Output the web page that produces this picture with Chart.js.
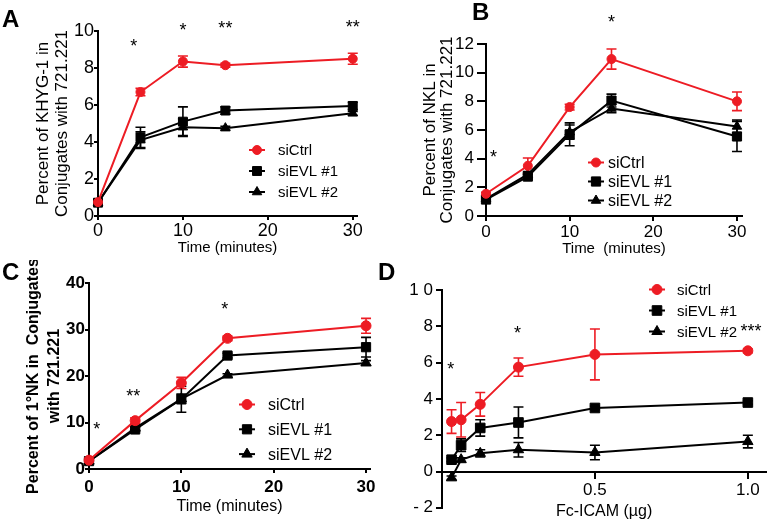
<!DOCTYPE html>
<html lang="en">
<head>
  <meta charset="UTF-8">
  <title>EVL knockdown and NK conjugate formation</title>
  <script src="https://cdn.jsdelivr.net/npm/chart.js"></script>
  <style>
    body {
      margin: 0;
      background: #fff;
    }

    #figure {
      position: relative;
      width: 774px;
      height: 521px;
    }

    #figure canvas {
      position: absolute;
    }
  </style>
</head>
<body>
  <div id="figure">
    <canvas id="chartA" width="380" height="260" style="left:0;top:0"></canvas>
    <canvas id="chartB" width="394" height="260" style="left:380px;top:0"></canvas>
    <canvas id="chartC" width="380" height="261" style="left:0;top:260px"></canvas>
    <canvas id="chartD" width="402" height="261" style="left:372px;top:260px"></canvas>
  </div>

<script>
    const seriesNames = ['siCtrl', 'siEVL #1', 'siEVL #2'];

    // A: KHYG-1 conjugates over time
    const minutes = [0, 5, 10, 15, 30];
    const minuteTicks = [0, 10, 20, 30];
    const khygTicks = [0, 2, 4, 6, 8, 10];
    const khygCtrl = [0.75, 6.7, 8.35, 8.15, 8.5];
    const khygEvl1 = [0.72, 4.25, 5.1, 5.7, 5.95];
    const khygEvl2 = [0.72, 4.1, 4.8, 4.75, 5.55];
    const khygCtrlErr = [0.15, 0.2, 0.3, 0.1, 0.3];
    const khygEvl1Err = [0.1, 0.55, 0.8, 0.2, 0.2];
    const khygEvl2Err = [0.1, 0.45, 0.45, 0.1, 0.1];

    // B: NKL conjugates over time
    const nklTicks = [0, 2, 4, 6, 8, 10, 12];
    const nklCtrl = [1.55, 3.5, 7.6, 10.95, 8.0];
    const nklEvl1 = [1.15, 2.75, 5.7, 8.05, 5.55];
    const nklEvl2 = [1.2, 2.9, 5.85, 7.5, 6.25];
    const nklCtrlErr = [0.1, 0.55, 0.2, 0.7, 0.65];
    const nklEvl1Err = [0.1, 0.15, 0.8, 0.45, 1.05];
    const nklEvl2Err = [0.1, 0.2, 0.5, 0.3, 0.45];

    // C: primary NK conjugates over time
    const primaryTicks = [0, 10, 20, 30, 40];
    const primaryCtrl = [1.9, 10.4, 18.5, 28.1, 30.8];
    const primaryEvl1 = [1.7, 8.5, 15.0, 24.4, 26.2];
    const primaryEvl2 = [1.7, 8.8, 15.1, 20.2, 22.8];
    const primaryCtrlErr = [0.3, 0.6, 1.2, 0.5, 1.6];
    const primaryEvl1Err = [0.3, 0.5, 2.8, 0.5, 2.1];
    const primaryEvl2Err = [0.2, 0.3, 1.0, 0.3, 0.5];

    // D: conjugates vs Fc-ICAM dose
    const icamDose = [0.03125, 0.0625, 0.125, 0.25, 0.5, 1.0];
    const icamTicks = [0.5, 1.0];
    const icamTickLabels = ['0.5', '1.0'];
    const icamYTicks = [-2, 0, 2, 4, 6, 8, 10];
    const icamYTickLabels = ['- 2', '0', '2', '4', '6', '8', '1 0'];
    const icamCtrl = [2.75, 2.85, 3.7, 5.75, 6.45, 6.65];
    const icamEvl1 = [0.65, 1.45, 2.4, 2.7, 3.5, 3.8];
    const icamEvl2 = [-0.35, 0.65, 1.0, 1.2, 1.05, 1.65];
    const icamCtrlErr = [0.65, 0.95, 0.65, 0.5, 1.4, 0.1];
    const icamEvl1Err = [0.1, 0.35, 0.45, 0.85, 0.1, 0.1];
    const icamEvl2Err = [0.1, 0.1, 0.2, 0.4, 0.4, 0.35];

    const FONT = '"Liberation Sans", Arial, sans-serif';
    const RED = '#ed1c24';
    const colors = [RED, '#000', '#000'];
    const shapes = ['circle', 'rect', 'triangle'];

    function buildDatasets(xs, values, errors, radii) {
      return values.map((ys, k) => ({
        label: seriesNames[k],
        data: xs.map((x, i) => ({ x: x, y: ys[i] })),
        errors: errors[k],
        borderColor: colors[k],
        backgroundColor: colors[k],
        pointBackgroundColor: colors[k],
        pointBorderColor: colors[k],
        pointStyle: shapes[k],
        pointRadius: radii[k],
        pointHoverRadius: radii[k],
        pointBorderWidth: 1,
        borderWidth: 2,
        tension: 0,
        clip: false
      }));
    }

    function axis(o) {
      return {
        type: 'linear',
        position: o.position,
        min: o.min,
        max: o.max,
        afterBuildTicks: s => { s.ticks = o.ticks.map(v => ({ value: v })); },
        afterFit: s => {
          if (s.isHorizontal()) s.height = o.size;
          else s.width = o.size;
        },
        ticks: {
          color: '#000',
          autoSkip: false,
          maxRotation: 0,
          padding: o.pad,
          font: { family: FONT, size: o.fontSize, weight: o.bold ? 'bold' : 'normal', lineHeight: 1.2 },
          callback: (v, i) => o.labels ? o.labels[i] : String(v)
        },
        grid: { drawOnChartArea: false, drawTicks: true, tickLength: o.tl, color: '#000', lineWidth: 2 },
        border: { display: true, color: '#000', width: 2 },
        title: o.title ? {
          display: true,
          text: o.title,
          color: '#000',
          font: { family: FONT, size: o.titleSize, weight: o.titleBold ? 'bold' : 'normal', lineHeight: o.titleLH },
          padding: o.titlePad
        } : { display: false }
      };
    }

    // error bars drawn under the markers
    const errorBars = {
      id: 'errorBars',
      beforeDatasetsDraw(chart) {
        const ctx = chart.ctx;
        const yScale = chart.scales.y;
        chart.data.datasets.forEach((ds, k) => {
          const meta = chart.getDatasetMeta(k);
          ctx.save();
          ctx.strokeStyle = ds.borderColor;
          ctx.lineWidth = 1.6;
          meta.data.forEach((pt, i) => {
            const err = ds.errors[i];
            const v = ds.data[i].y;
            const top = yScale.getPixelForValue(v + err);
            const bot = yScale.getPixelForValue(v - err);
            ctx.beginPath();
            ctx.moveTo(pt.x, top); ctx.lineTo(pt.x, bot);
            ctx.moveTo(pt.x - 5, top); ctx.lineTo(pt.x + 5, top);
            ctx.moveTo(pt.x - 5, bot); ctx.lineTo(pt.x + 5, bot);
            ctx.stroke();
          });
          ctx.restore();
        });
      }
    };

    // panel letter, significance stars and the in-plot legend
    const panelText = {
      id: 'panelText',
      afterDraw(chart, args, opts) {
        const ctx = chart.ctx;
        ctx.save();
        ctx.fillStyle = '#000';
        ctx.font = 'bold 24px ' + FONT;
        ctx.textAlign = 'left';
        ctx.textBaseline = 'alphabetic';
        ctx.fillText(opts.letter, opts.letterX, opts.letterY);

        ctx.font = '18px ' + FONT;
        ctx.textAlign = 'center';
        opts.stars.forEach(s => {
          const x = chart.scales.x.getPixelForValue(s.x);
          const y = chart.scales.y.getPixelForValue(s.y);
          ctx.fillText(s.text, x, y + 18 * 0.57);
        });

        const lg = opts.legend;
        ctx.font = lg.font + 'px ' + FONT;
        ctx.textAlign = 'left';
        ctx.textBaseline = 'middle';
        chart.data.datasets.forEach((ds, k) => {
          const y = lg.y + k * lg.dy;
          ctx.strokeStyle = ds.borderColor;
          ctx.fillStyle = ds.borderColor;
          ctx.lineWidth = 2;
          ctx.beginPath();
          ctx.moveTo(lg.x - 8, y);
          ctx.lineTo(lg.x + 8, y);
          ctx.stroke();
          ctx.lineWidth = 1;
          Chart.helpers.drawPoint(ctx, { pointStyle: ds.pointStyle, radius: ds.pointRadius, borderWidth: 1, rotation: 0 }, lg.x, y);
          ctx.fillStyle = '#000';
          ctx.fillText(ds.label, lg.textX, y + 1);
        });
        ctx.restore();
      }
    };

    function makePanel(id, p) {
      return new Chart(document.getElementById(id), {
        type: 'line',
        data: { datasets: buildDatasets(p.xs, p.values, p.errors, p.radii) },
        options: {
          responsive: false,
          animation: false,
          events: [],
          layout: { padding: p.padding },
          plugins: {
            legend: { display: false },
            tooltip: { enabled: false },
            panelText: p.text
          },
          scales: { x: p.x, y: p.y }
        },
        plugins: [errorBars, panelText]
      });
    }

    makePanel('chartA', {
      xs: minutes,
      values: [khygCtrl, khygEvl1, khygEvl2],
      errors: [khygCtrlErr, khygEvl1Err, khygEvl2Err],
      radii: [4.5, 6.3, 5.5],
      padding: { left: 0, top: 31, right: 23, bottom: 0 },
      x: axis({ position: 'bottom', min: 0, max: 30.5, ticks: minuteTicks, size: 44, fontSize: 18, tl: 4, pad: 0,
                title: 'Time (minutes)', titleSize: 15, titleLH: 1.2, titlePad: { top: 0, bottom: 3 } }),
      y: axis({ position: 'left', min: 0, max: 10, ticks: khygTicks, size: 98, fontSize: 18, tl: 4, pad: 0,
                title: ['Percent of KHYG-1 in', 'Conjugates with 721.221'], titleSize: 17, titleLH: 1.1,
                titlePad: { top: 34, bottom: 0 } }),
      text: {
        letter: 'A', letterX: 2, letterY: 27,
        stars: [
          { text: '*', x: 4.2, y: 9.4 },
          { text: '*', x: 10, y: 10.3 },
          { text: '**', x: 15, y: 10.4 },
          { text: '**', x: 30, y: 10.45 }
        ],
        legend: { x: 257, textX: 278, y: 150, dy: 21, font: 15 }
      }
    });

    makePanel('chartB', {
      xs: minutes,
      values: [nklCtrl, nklEvl1, nklEvl2],
      errors: [nklCtrlErr, nklEvl1Err, nklEvl2Err],
      radii: [4.5, 6.5, 5.5],
      padding: { left: 0, top: 44, right: 32, bottom: 0 },
      x: axis({ position: 'bottom', min: 0, max: 30.6, ticks: minuteTicks, size: 44, fontSize: 17, tl: 5, pad: 1,
                title: 'Time  (minutes)', titleSize: 15, titleLH: 1.2, titlePad: { top: 0, bottom: 2 } }),
      y: axis({ position: 'left', min: 0, max: 12, ticks: nklTicks, size: 106, fontSize: 17, tl: 9, pad: 3,
                title: ['Percent of NKL in', 'Conjugates with 721.221'], titleSize: 17, titleLH: 0.96,
                titlePad: { top: 42.5, bottom: 0 } }),
      text: {
        letter: 'B', letterX: 92, letterY: 20,
        stars: [
          { text: '*', x: 0.9, y: 4.4 },
          { text: '*', x: 15, y: 13.8 }
        ],
        legend: { x: 216, textX: 228, y: 162.5, dy: 19, font: 16 }
      }
    });

    makePanel('chartC', {
      xs: minutes,
      values: [primaryCtrl, primaryEvl1, primaryEvl2],
      errors: [primaryCtrlErr, primaryEvl1Err, primaryEvl2Err],
      radii: [5, 6.5, 6],
      padding: { left: 0, top: 23, right: 10, bottom: 0 },
      x: axis({ position: 'bottom', min: 0, max: 30.43, ticks: minuteTicks, size: 52, fontSize: 17, bold: true, tl: 4, pad: 4,
                title: 'Time (minutes)', titleSize: 16, titleLH: 1.2, titlePad: { top: 0, bottom: 4.4 } }),
      y: axis({ position: 'left', min: 0, max: 40, ticks: primaryTicks, size: 89, fontSize: 17, bold: true, tl: 4, pad: 0,
                title: ['Percent of 1°NK in  Conjugates', 'with 721.221'], titleSize: 16, titleBold: true, titleLH: 1.3,
                titlePad: { top: 23.6, bottom: 0 } }),
      text: {
        letter: 'C', letterX: 2, letterY: 20,
        stars: [
          { text: '*', x: 0.85, y: 9.5 },
          { text: '**', x: 4.8, y: 16.6 },
          { text: '*', x: 14.7, y: 35.3 }
        ],
        legend: { x: 247, textX: 268, y: 144.5, dy: 24.8, font: 16 }
      }
    });

    makePanel('chartD', {
      xs: icamDose,
      values: [icamCtrl, icamEvl1, icamEvl2],
      errors: [icamCtrlErr, icamEvl1Err, icamEvl2Err],
      radii: [5, 6.8, 6],
      padding: { left: 0, top: 30, right: 1, bottom: 13 },
      x: axis({ position: { y: 0 }, min: 0, max: 1.06, ticks: icamTicks, labels: icamTickLabels, size: 50, fontSize: 17, tl: 6, pad: 3,
                title: 'Fc-ICAM (µg)', titleSize: 16, titleLH: 1.2, titlePad: { top: 0, bottom: 0 } }),
      y: axis({ position: 'left', min: -2, max: 10, ticks: icamYTicks, labels: icamYTickLabels, size: 70, fontSize: 17, tl: 6, pad: 3 }),
      text: {
        letter: 'D', letterX: 6, letterY: 20,
        stars: [
          { text: '*', x: 0.029, y: 5.9 },
          { text: '*', x: 0.247, y: 7.85 },
          { text: '***', x: 1.01, y: 8.0 }
        ],
        legend: { x: 285, textX: 305, y: 29.5, dy: 21, font: 15 }
      }
    });
</script>
</body>
</html>
